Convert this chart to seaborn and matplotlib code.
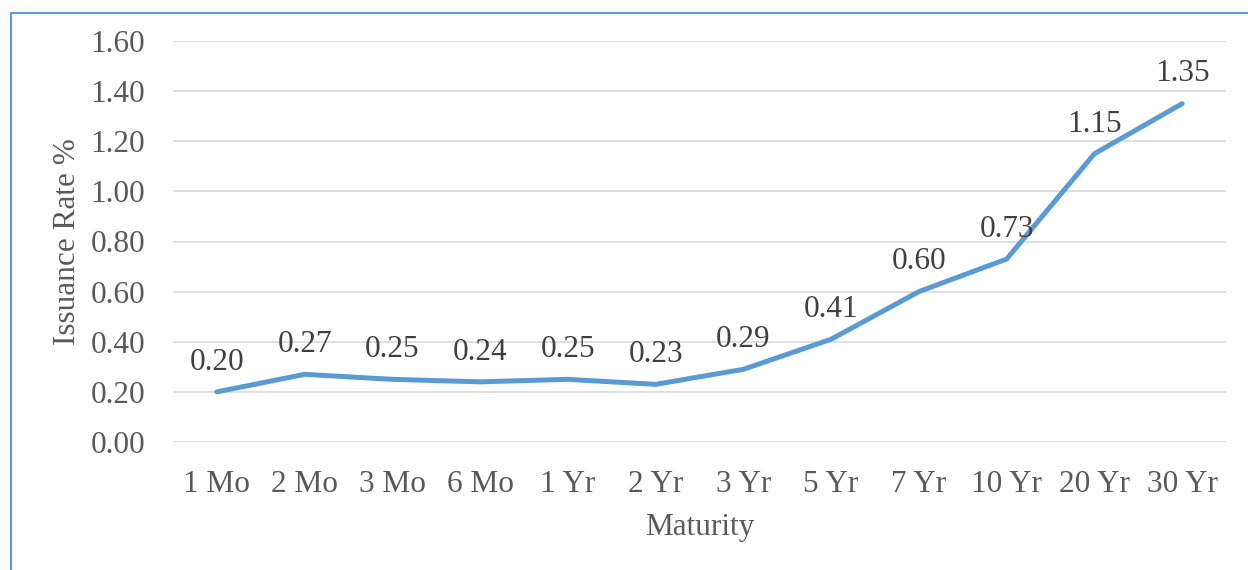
import matplotlib
matplotlib.use("Agg")
import matplotlib.pyplot as plt
from matplotlib.patches import Rectangle
import seaborn as sns
import pandas as pd

maturities = ["1 Mo", "2 Mo", "3 Mo", "6 Mo", "1 Yr", "2 Yr", "3 Yr",
              "5 Yr", "7 Yr", "10 Yr", "20 Yr", "30 Yr"]
rates = [0.20, 0.27, 0.25, 0.24, 0.25, 0.23, 0.29, 0.41, 0.60, 0.73, 1.15, 1.35]
y_ticks = [0.0, 0.2, 0.4, 0.6, 0.8, 1.0, 1.2, 1.4, 1.6]

sns.set_style("white")
plt.rcParams["font.family"] = ["Liberation Serif", "DejaVu Serif"]

TEXT = "#595959"
LINE = "#5B9BD5"
FS = 22.5

df = pd.DataFrame({"Maturity": maturities, "Rate": rates, "pos": range(len(maturities))})

fig = plt.figure(figsize=(12.48, 5.70), dpi=100)
W, H = 1248, 570
ax = fig.add_axes([173 / W, 1 - 442 / H, (1226 - 173) / W, (442 - 41) / H])

sns.lineplot(data=df, x="pos", y="Rate", ax=ax, color=LINE, linewidth=3.6,
             solid_capstyle="round", zorder=3)

for x, v in zip(df["pos"], df["Rate"]):
    ax.annotate(f"{v:.2f}", (x, v), xytext=(0, 11), textcoords="offset points",
                ha="center", va="bottom", fontsize=FS, color="#404040")

ax.set_xlim(-0.5, len(maturities) - 0.5)
ax.set_ylim(0, 1.6)
ax.set_yticks(y_ticks)
ax.set_yticklabels([f"{t:.2f}" for t in y_ticks])
ax.set_xticks(range(len(maturities)))
ax.set_xticklabels(maturities)
ax.grid(axis="y", color="#D9D9D9", linewidth=1.2)
ax.set_axisbelow(True)
for s in ax.spines.values():
    s.set_visible(False)
ax.tick_params(axis="both", length=0, labelsize=FS, colors=TEXT)
ax.tick_params(axis="y", pad=20)
ax.tick_params(axis="x", pad=20)
ax.set_xlabel("Maturity", fontsize=FS, color=TEXT, labelpad=10)
ax.set_ylabel("Issuance Rate %", fontsize=FS, color=TEXT, labelpad=6)

# outer chart border
fig.patches.append(Rectangle((11 / W, -0.1), 1.2, 1 - 13 / H + 0.1,
                             transform=fig.transFigure, fill=False,
                             edgecolor=LINE, linewidth=1.5))

fig.savefig("out.png", dpi=100, facecolor="white")
